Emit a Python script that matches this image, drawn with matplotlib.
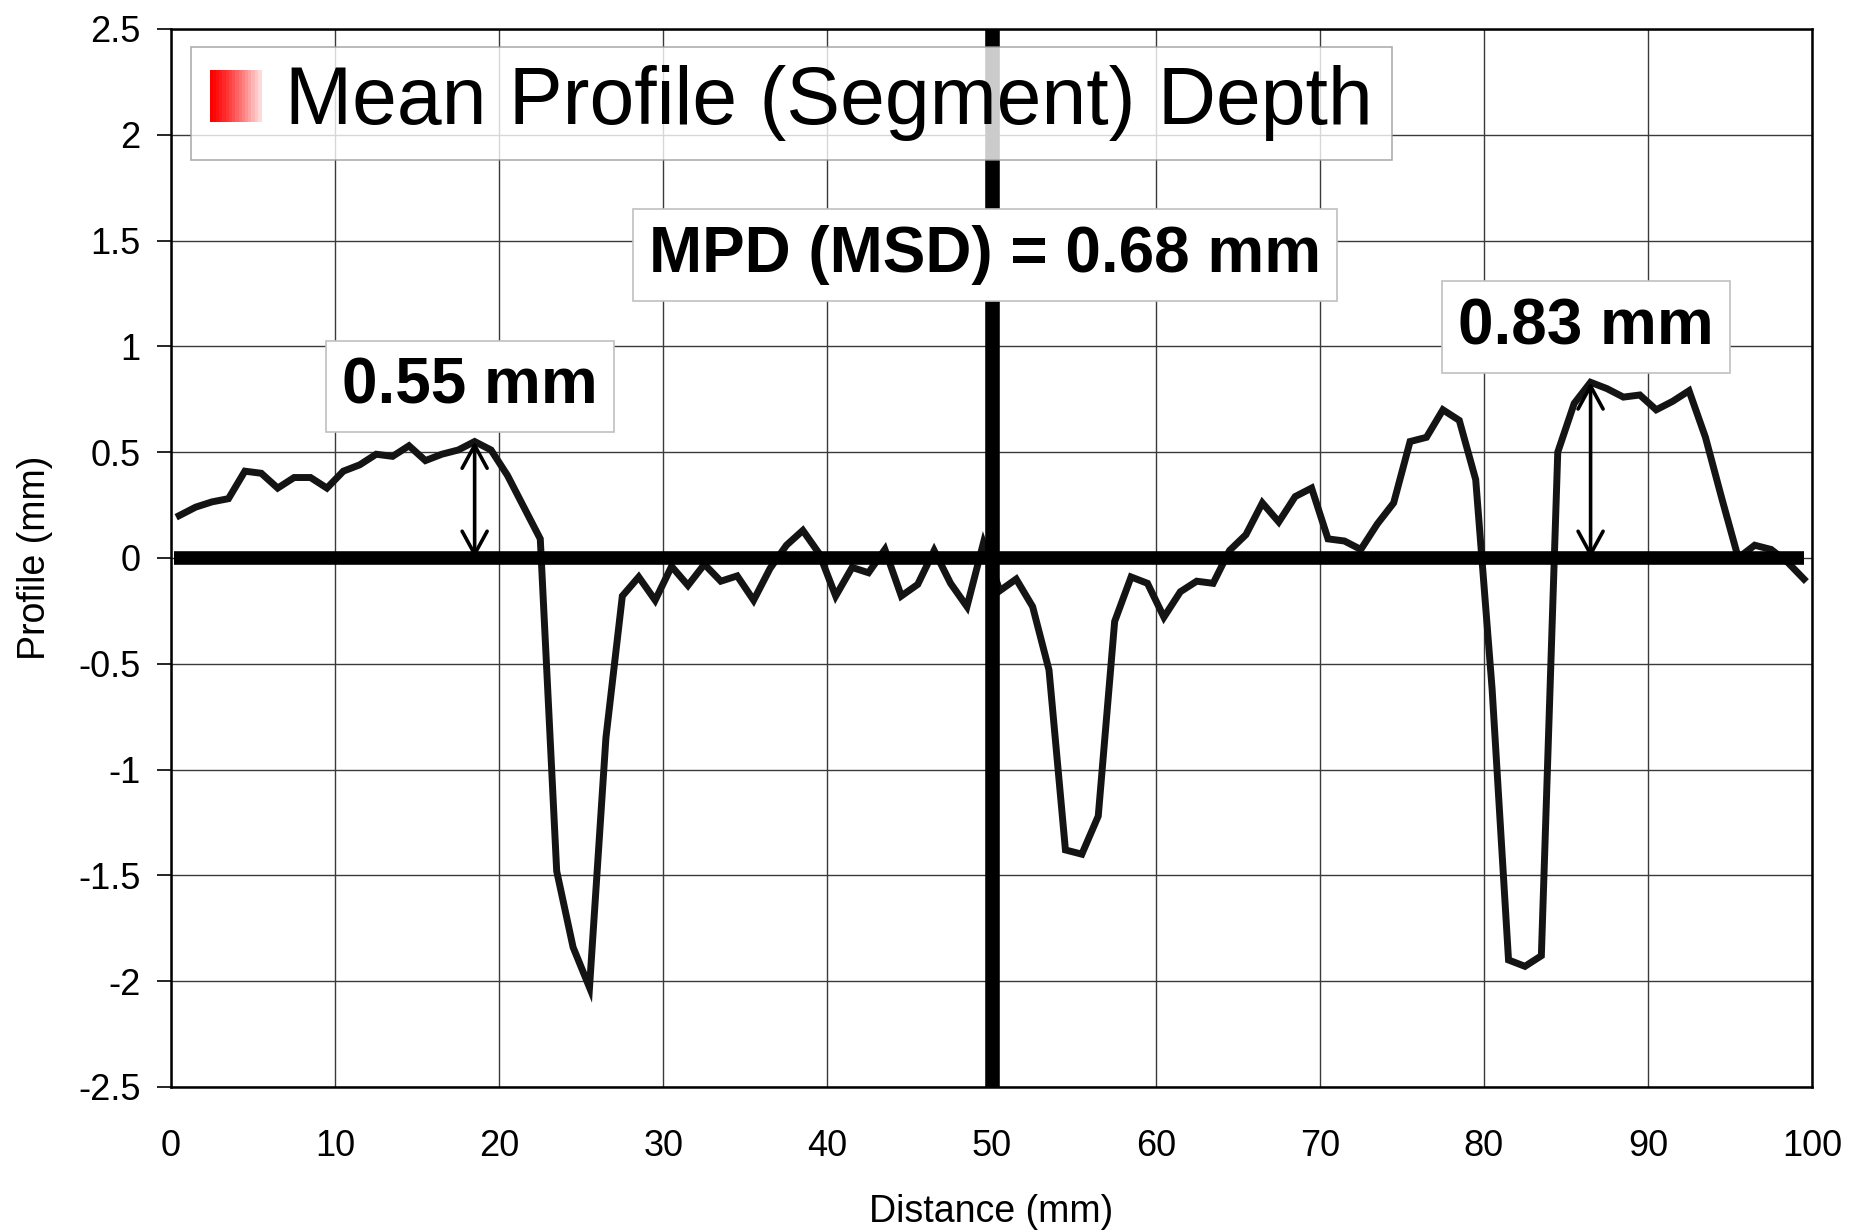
import numpy as np
import matplotlib
matplotlib.use("Agg")
import matplotlib.pyplot as plt
from matplotlib.patches import Patch, Rectangle
from matplotlib.legend_handler import HandlerBase

plt.rcParams['font.family'] = ['Liberation Sans', 'DejaVu Sans']

# profile sampled every mm
distance = [0.5, 1.5, 2.5, 3.5, 4.5, 5.5, 6.5, 7.5, 8.5, 9.5,
            10.5, 11.5, 12.5, 13.5, 14.5, 15.5, 16.5, 17.5, 18.5, 19.5,
            20.5, 21.5, 22.5, 23.5, 24.5, 25.5, 26.5, 27.5, 28.5, 29.5,
            30.5, 31.5, 32.5, 33.5, 34.5, 35.5, 36.5, 37.5, 38.5, 39.5,
            40.5, 41.5, 42.5, 43.5, 44.5, 45.5, 46.5, 47.5, 48.5, 49.5,
            50.5, 51.5, 52.5, 53.5, 54.5, 55.5, 56.5, 57.5, 58.5, 59.5,
            60.5, 61.5, 62.5, 63.5, 64.5, 65.5, 66.5, 67.5, 68.5, 69.5,
            70.5, 71.5, 72.5, 73.5, 74.5, 75.5, 76.5, 77.5, 78.5, 79.5,
            80.5, 81.5, 82.5, 83.5, 84.5, 85.5, 86.5, 87.5, 88.5, 89.5,
            90.5, 91.5, 92.5, 93.5, 94.5, 95.5, 96.5, 97.5, 98.5, 99.5]
profile = [0.20, 0.24, 0.265, 0.28, 0.41, 0.40, 0.33, 0.38, 0.38, 0.33,
           0.41, 0.44, 0.49, 0.48, 0.53, 0.46, 0.49, 0.51, 0.55, 0.51,
           0.39, 0.24, 0.09, -1.48, -1.84, -2.03, -0.85, -0.18, -0.09, -0.20,
           -0.04, -0.13, -0.03, -0.11, -0.085, -0.20, -0.05, 0.06, 0.13, 0.02,
           -0.18, -0.045, -0.07, 0.04, -0.18, -0.125, 0.035, -0.12, -0.23, 0.07,
           -0.155, -0.10, -0.23, -0.53, -1.38, -1.40, -1.22, -0.30, -0.09, -0.12,
           -0.28, -0.16, -0.11, -0.12, 0.035, 0.11, 0.26, 0.17, 0.29, 0.33,
           0.09, 0.08, 0.04, 0.16, 0.26, 0.55, 0.57, 0.70, 0.65, 0.37,
           -0.62, -1.90, -1.93, -1.88, 0.50, 0.73, 0.83, 0.80, 0.76, 0.77,
           0.70, 0.74, 0.79, 0.57, 0.28, 0.00, 0.06, 0.04, -0.02, -0.10]

# peak heights of the two half segments
peak_x = [18.5, 86.5]
peak_depth = [0.55, 0.83]
peak_labels = ['0.55 mm', '0.83 mm']
mpd_label = 'MPD (MSD) = 0.68 mm'
legend_label = 'Mean Profile (Segment) Depth'

xticks = [0, 10, 20, 30, 40, 50, 60, 70, 80, 90, 100]
yticks = [-2.5, -2, -1.5, -1, -0.5, 0, 0.5, 1, 1.5, 2, 2.5]
ytick_labels = ['-2.5', '-2', '-1.5', '-1', '-0.5', '0', '0.5', '1', '1.5', '2', '2.5']


class GradientHandler(HandlerBase):
    # red square fading to white, like the excel legend key
    def create_artists(self, legend, orig_handle, xdescent, ydescent,
                       width, height, fontsize, trans):
        n = 16
        arts = []
        for i in range(n):
            f = i / (n - 1)
            c = (1.0, 0.85 * f ** 1.3, 0.85 * f ** 1.3)
            r = Rectangle((-xdescent + i * width / n, -ydescent), width / n + 0.5, height,
                          facecolor=c, edgecolor='none', transform=trans)
            arts.append(r)
        return arts


fig = plt.figure(figsize=(18.51, 12.30), dpi=100)
ax = fig.add_axes([0.0924, 0.1163, 0.8866, 0.8602])

ax.plot(distance, profile, color='#141414', lw=5.0, solid_joinstyle='miter', zorder=3)
ax.hlines(0, 0.2, 99.5, color='black', lw=9.8, zorder=4)
ax.axvline(50, color='black', lw=10.5, zorder=4)

for px, pd, lab, ty in zip(peak_x, peak_depth, peak_labels, [0.81, 1.09]):
    ax.annotate('', xy=(px, pd), xytext=(px, 0),
                arrowprops=dict(arrowstyle='<->,head_length=0.55,head_width=0.3',
                                mutation_scale=30, lw=2.6, color='black',
                                shrinkA=0, shrinkB=0), zorder=5)
    ax.text(px - 0.3, ty, lab, ha='center', va='center', fontsize=46, fontweight='bold',
            bbox=dict(boxstyle='square,pad=0.25', fc='white', ec='#c0c0c0', lw=1.2), zorder=6)

ax.text(49.6, 1.43, mpd_label, ha='center', va='center', fontsize=46, fontweight='bold',
        bbox=dict(boxstyle='square,pad=0.25', fc='white', ec='#c0c0c0', lw=1.2), zorder=6)

ax.set_xlim(0, 100)
ax.set_ylim(-2.5, 2.5)
ax.set_xticks(xticks)
ax.set_yticks(yticks)
ax.set_yticklabels(ytick_labels)
ax.tick_params(axis='x', length=0, pad=30, labelsize=26)
ax.tick_params(axis='y', length=10, width=1.2, pad=12, labelsize=26, direction='out')
ax.grid(True, color='#3a3a3a', lw=1.0)
ax.set_axisbelow(True)
for s in ax.spines.values():
    s.set_linewidth(1.8)
    s.set_color('black')

ax.set_xlabel('Distance (mm)', fontsize=27, labelpad=22)
ax.set_ylabel('Profile (mm)', fontsize=27, labelpad=18)

leg = ax.legend(handles=[Patch(facecolor='red', label=legend_label)],
                handler_map={Patch: GradientHandler()},
                loc='upper left', bbox_to_anchor=(0.0122, 0.983), borderaxespad=0,
                fontsize=58, handlelength=0.64, handleheight=0.6, handletextpad=0.3,
                borderpad=0.23, fancybox=False, framealpha=0.8, edgecolor='#999999')
leg.get_frame().set_linewidth(1.2)
leg.set_zorder(7)

fig.savefig('out.png', dpi=100)
